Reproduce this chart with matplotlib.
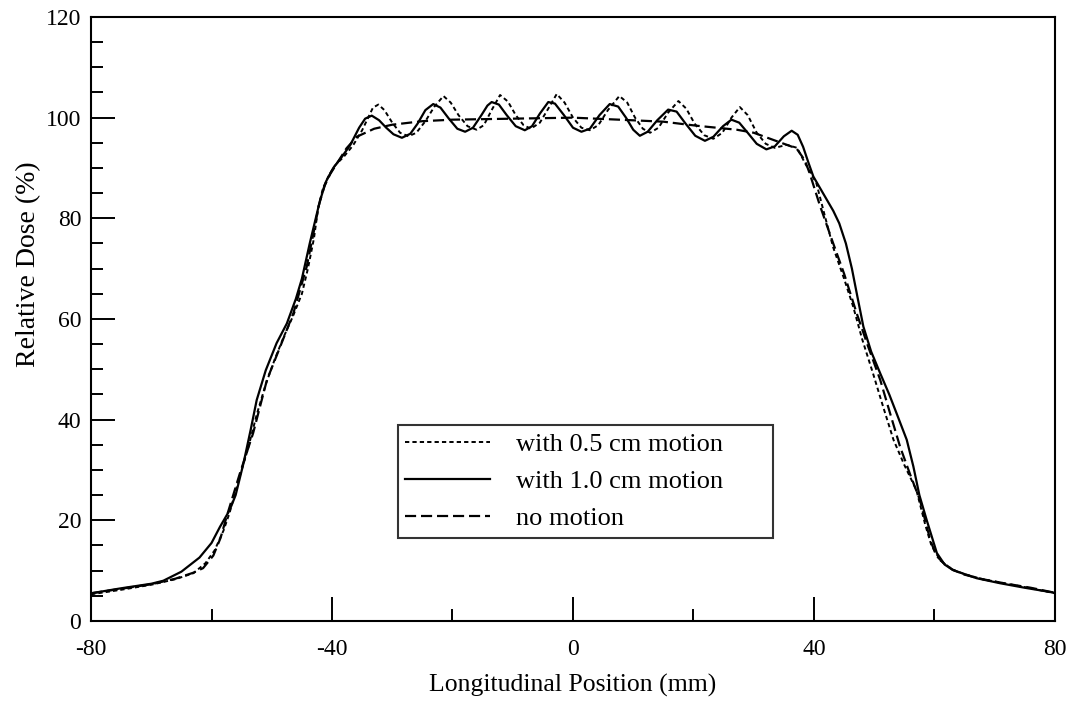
import matplotlib
matplotlib.use('Agg')
import matplotlib.pyplot as plt
from matplotlib.ticker import MultipleLocator

plt.rcParams['font.family'] = ['Liberation Serif', 'DejaVu Serif']
plt.rcParams['axes.unicode_minus'] = False

# with 0.5 cm motion (dotted)
x_05 = [-80, -75, -70, -66, -63, -61, -59.5, -58, -57, -55.5, -54, -52.5, -51, -49.5, -48,
        -46.5, -45, -44, -43, -42.3, -41.5, -40.5, -39.5, -38, -36.5, -35, -34, -33.2, -32.3, -31.3,
        -30, -28.7, -27.3, -26, -24.5, -23, -21.5, -20.3, -19, -17.5, -16, -14.8, -13.5,
        -12.1, -10.8, -9.5, -8.2, -7, -5.5, -4, -2.7, -1.4, 0, 1.4, 2.8, 4.2, 5.8, 7.7, 9,
        10.3, 11.6, 12.8, 14.2, 15.8, 17.5, 18.8, 20.2, 21.8, 23.3, 24.8, 26.3, 27.7, 29,
        30.5, 32, 33.5, 35.5, 37.2, 38.5, 40.4, 41.8, 43.2, 45, 46.5, 48, 49.8, 51.5, 53.2,
        55, 57, 58.5, 59.5, 61, 63, 65, 68, 72, 76, 80]
y_05 = [5.3, 6.2, 7.2, 8.3, 9.5, 11.5, 14, 18, 21.5, 28, 34, 41, 47, 52, 56.5,
        60.5, 65, 70, 76, 82, 86, 88.6, 90.5, 92.3, 94.5, 97.5, 100.0, 102.0, 102.6, 101.5,
        99, 97, 96.3, 97, 99.3, 102.2, 104.3, 103, 100.5, 98.3, 97.6, 98.5, 101.5,
        104.5, 103.2, 100.5, 98.5, 97.8, 99, 102, 104.7, 103, 100, 98, 97.5, 98.5, 101.5, 104.3, 103,
        100, 97.8, 97.0, 98, 101, 103.3, 101.8, 98.8, 96.5, 95.8, 97, 100, 102.1, 100.5,
        97, 94.8, 94, 94.6, 94, 91, 87, 80.5, 74.2, 68, 62.5, 56, 49.2, 42.5, 36,
        31, 26, 19, 15, 12, 10.2, 9.3, 8.3, 7.4, 6.5, 5.5]

# with 1.0 cm motion (solid)
x_10 = [-80, -75, -70, -68, -65, -62, -60, -58.6, -57, -56, -54.7, -53.5, -52.5, -51, -49.2,
        -47.5, -46, -45, -43.7, -42.8, -42, -41, -39.8, -38.5, -37, -35.5, -34.5, -33.4,
        -32.2, -31, -29.8, -28.4, -27, -25.8, -24.5, -23.2, -22, -20.6, -19.2, -17.9, -16.6,
        -15.2, -14.2, -13.5, -12.3, -11, -9.5, -8, -6.8, -5.5, -4.1, -3, -1.5, 0, 1.4, 2.8,
        4.4, 6.1, 7.5, 8.8, 10, 11.1, 12.4, 14, 15.8, 17.2, 18.7, 20.3, 21.9, 23.3, 24.9,
        26.3, 27.6, 29, 30.5, 32.1, 33.5, 35, 36.3, 37.3, 38.2, 39.1, 39.9, 41.5, 43.2, 44.2,
        45.3, 46.3, 47.2, 48.2, 49.5, 51, 52.5, 53.7, 55.4, 56.5, 57.5, 58.7, 60.4, 61.7, 63.1, 67,
        70.9, 75, 80]
y_10 = [5.5, 6.5, 7.4, 8.0, 9.8, 12.6, 15.5, 18.7, 22, 25, 31.3, 38, 43.9, 49.8, 55.2,
        59.1, 64, 68, 75, 79.5, 83.5, 87.3, 90.0, 92, 94.5, 98.0, 99.8, 100.4,
        99.5, 98, 96.7, 96.0, 96.8, 98.8, 101.5, 102.7, 102, 99.8, 97.8, 97.2, 98,
        100.5, 102.4, 103.1, 102.6, 100.5, 98.3, 97.5, 98.3, 100.8, 103.1, 102.8, 100.5, 98, 97.2, 97.8,
        100.5, 102.7, 102.2, 100, 97.6, 96.4, 97.2, 99.5, 101.6, 101.2, 98.8, 96.4, 95.4, 96.2, 98.3,
        99.6, 99, 97, 94.8, 93.7, 94.3, 96.3, 97.4, 96.6, 94.2, 91.0, 88.3, 85, 81.5, 79,
        75, 70, 64.5, 58.5, 53.5, 49.2, 45, 41.3, 36, 30.7, 25, 20.1, 13.5, 11.2, 10.1, 8.5,
        7.5, 6.6, 5.6]

# no motion (dashed)
x_0 = [-80, -75, -70, -66, -63, -61.4, -59.7, -58.5, -57.5, -55.3, -53.1, -50.8, -48.6, -46.4,
       -44.2, -43, -42.2, -41.3, -40.3, -37.6, -35.9, -33, -30, -25, -20, -10, 0, 9.5, 15, 20.5,
       27.2, 30, 33.2, 37.1, 38.5, 39.3, 41, 43.2, 45, 47.1, 49, 51, 52.7, 54.3, 56, 57.6,
       59.3, 60.3, 61.5, 63, 65, 68, 72, 76, 80]
y_0 = [5.5, 6.4, 7.3, 8.4, 9.6, 10.5, 13, 16.5, 20.7, 29.3, 37.3, 47.9, 54.5, 61.2,
       70.4, 77.5, 82.5, 86.3, 88.8, 93.9, 96.2, 97.8, 98.6, 99.3, 99.6, 99.8, 100, 99.5, 99.2, 98.4,
       97.6, 97, 95.6, 93.9, 91.5, 88.9, 82.5, 75, 69, 61.1, 54.5, 47.9, 41, 34.6, 29, 24,
       16.1, 13, 11.5, 10.2, 9.2, 8.3, 7.4, 6.6, 5.6]

labels = ['with 0.5 cm motion', 'with 1.0 cm motion', 'no motion']

fig = plt.figure(figsize=(10.71, 7.02), dpi=100)
ax = fig.add_axes([0.085, 0.1154, 0.9, 0.8604])

ax.plot(x_05, y_05, color='black', lw=1.4, linestyle=(0, (2.2, 1.6)), label=labels[0])
ax.plot(x_10, y_10, color='black', lw=1.6, linestyle='-', label=labels[1])
ax.plot(x_0, y_0, color='black', lw=1.6, linestyle=(0, (5, 2.2)), label=labels[2])

ax.set_xlim(-80, 80)
ax.set_ylim(0, 120)
ax.xaxis.set_major_locator(MultipleLocator(40))
ax.xaxis.set_minor_locator(MultipleLocator(20))
ax.yaxis.set_major_locator(MultipleLocator(20))
ax.yaxis.set_minor_locator(MultipleLocator(5))
ax.tick_params(which='both', direction='in', top=False, right=False, width=1.4, labelsize=17)
ax.tick_params(which='major', length=17)
ax.tick_params(which='minor', length=8.5)
ax.tick_params(axis='x', which='major', pad=13)
ax.tick_params(axis='y', which='major', pad=7)
for s in ax.spines.values():
    s.set_linewidth(1.5)

ax.set_xlabel('Longitudinal Position (mm)', fontsize=18.5, labelpad=10)
ax.set_ylabel('Relative Dose (%)', fontsize=20)
ax.yaxis.set_label_coords(-0.052, 0.59)

leg = ax.legend(loc='lower left', bbox_to_anchor=(0.318, 0.137, 0.39, 0.19), mode='expand',
                fontsize=19, frameon=True, fancybox=False, edgecolor='black',
                handlelength=3.2, handletextpad=1.0, labelspacing=0.52, borderpad=0.3,
                borderaxespad=0)
leg.get_frame().set_linewidth(1.5)

plt.savefig('out.png', dpi=100)
